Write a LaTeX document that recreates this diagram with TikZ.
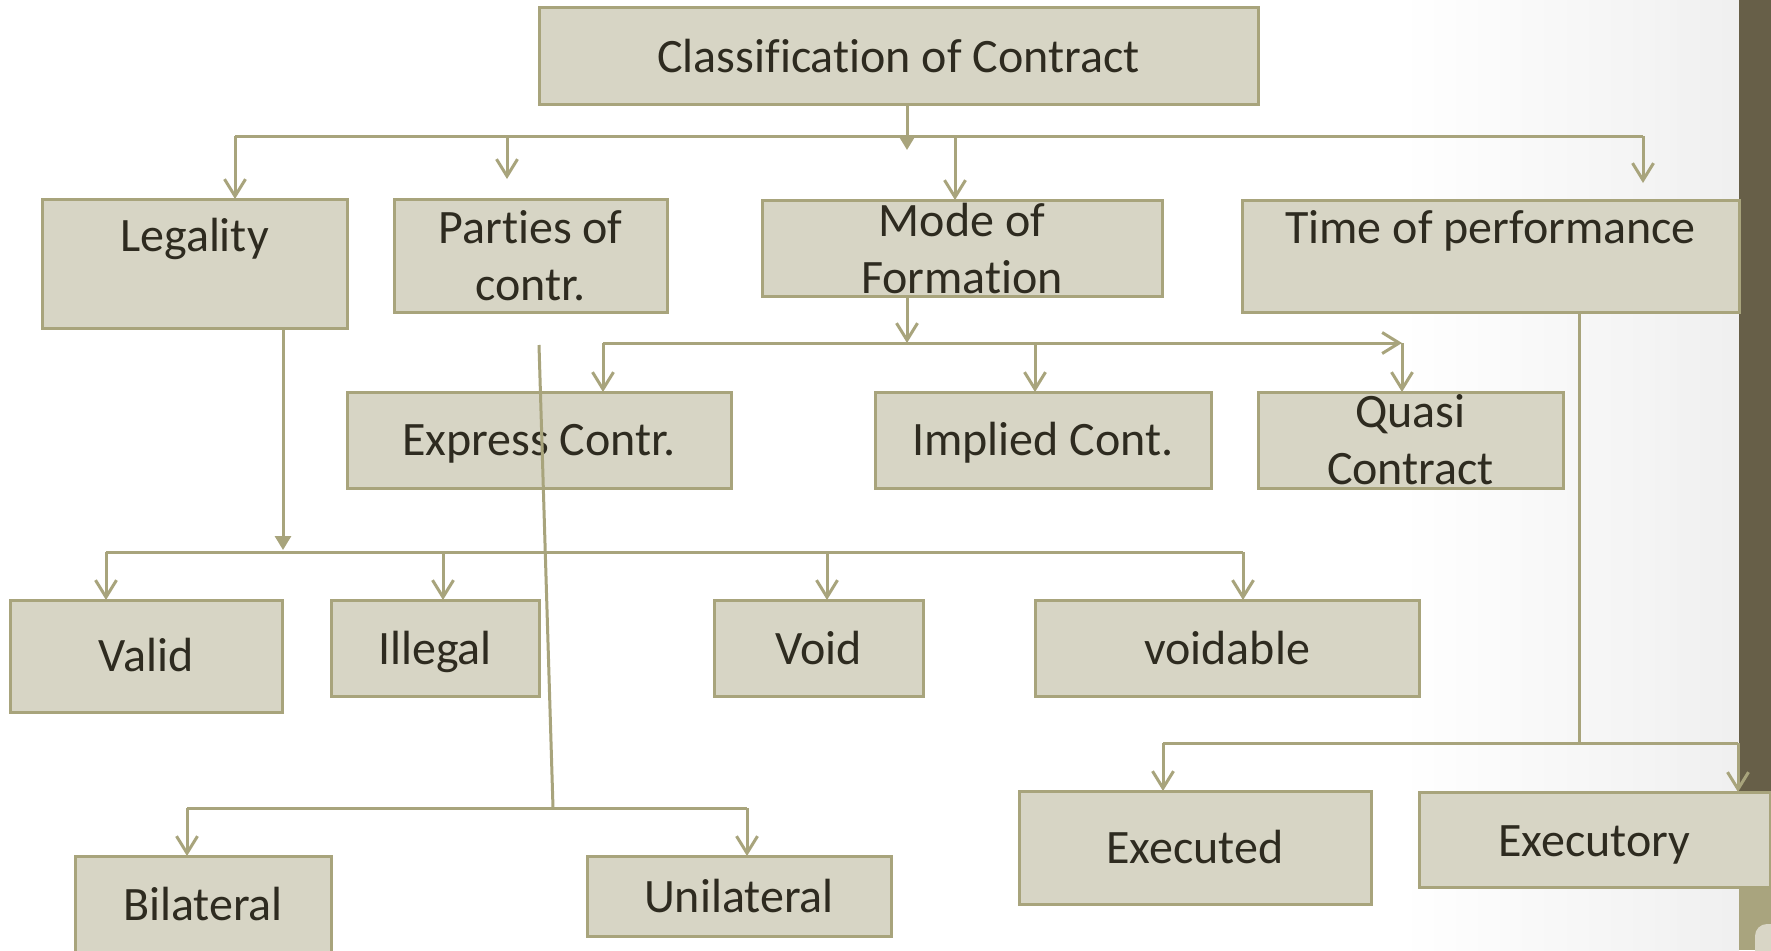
\documentclass[tikz,border=0pt]{standalone}
\usepackage{fontspec}
\setmainfont[Ligatures=NoCommon]{Carlito}
\usetikzlibrary{arrows.meta}
\definecolor{boxfill}{HTML}{D7D5C5}
\definecolor{olive}{HTML}{A8A47C}
\definecolor{txt}{HTML}{2E2B20}
\definecolor{darkbar}{HTML}{675F48}
\definecolor{olivebar}{HTML}{A9A47E}
\definecolor{lightpanel}{HTML}{D9D6C6}
\begin{document}
\begin{tikzpicture}[x=1pt,y=-1pt,
  box/.style={draw=olive, fill=boxfill, line width=3pt, inner sep=0pt, outer sep=0pt},
  lbl/.style={text=txt, font=\fontsize{48}{58}\selectfont, inner sep=0pt, anchor=base},
  conn/.style={draw=olive, line width=3pt},
  barb/.style={conn, -{Straight Barb[length=17pt,width=21pt]}},
  tri/.style={conn, -{Triangle[length=14pt,width=16pt]}}]
\useasboundingbox (0,0) rectangle (1771,950);
% background
\fill[white] (0,0) rectangle (1771,950);
\shade[left color=white, right color=black!6] (1400,0) rectangle (1739,950);
\fill[darkbar] (1739,0) rectangle (1771,840);
\fill[olivebar] (1739,840) rectangle (1771,950);
\fill[lightpanel, rounded corners=12pt] (1755,924) rectangle (1800,980);
% boxes
\node[box, minimum width=719, minimum height=96] (title) at (898.5,56) {};
\node[box, minimum width=305, minimum height=129] (legality) at (194.5,263.5) {};
\node[box, minimum width=273, minimum height=113] (parties) at (530.5,255.5) {};
\node[box, minimum width=400, minimum height=96] (mode) at (962,248) {};
\node[box, minimum width=497, minimum height=112] (time) at (1490.5,256) {};
\node[box, minimum width=384, minimum height=96] (express) at (539,440) {};
\node[box, minimum width=336, minimum height=96] (implied) at (1043,440) {};
\node[box, minimum width=305, minimum height=96] (quasi) at (1410.5,440) {};
\node[box, minimum width=272, minimum height=112] (valid) at (146,656) {};
\node[box, minimum width=208, minimum height=96] (illegal) at (435,648) {};
\node[box, minimum width=209, minimum height=96] (void) at (818.5,648) {};
\node[box, minimum width=384, minimum height=96] (voidable) at (1227,648) {};
\node[box, minimum width=256, minimum height=104] (bilateral) at (203,908) {};
\node[box, minimum width=304, minimum height=80] (unilateral) at (739,896) {};
\node[box, minimum width=352, minimum height=113] (executed) at (1195,847.5) {};
\node[box, minimum width=351, minimum height=95] (executory) at (1594.5,839.5) {};
% texts
\node[lbl] (titleT) at (898.5,72) {Classification of Contract};
\node[lbl] (legalityT) at (194.5,251) {Legality};
\node[lbl] (partiesT1) at (530.5,243) {Parties of};
\node[lbl] (partiesT2) at (530.5,300) {contr.};
\node[lbl] (modeT1) at (962,236) {Mode of};
\node[lbl] (modeT2) at (962,293) {Formation};
\node[lbl] (timeT) at (1490.5,243) {Time of performance};
\node[lbl] (expressT) at (539,455) {Express Contr.};
\node[lbl] (impliedT) at (1043,455) {Implied Cont.};
\node[lbl] (quasiT1) at (1410.5,427) {Quasi};
\node[lbl] (quasiT2) at (1410.5,484) {Contract};
\node[lbl] (validT) at (146,671) {Valid};
\node[lbl] (illegalT) at (435,664) {Illegal};
\node[lbl] (voidT) at (818.5,664) {Void};
\node[lbl] (voidableT) at (1227,664) {voidable};
\node[lbl] (bilateralT) at (203,920) {Bilateral};
\node[lbl] (unilateralT) at (739,912) {Unilateral};
\node[lbl] (executedT) at (1195,863) {Executed};
\node[lbl] (executoryT) at (1594.5,856) {Executory};
% junction coordinates
\coordinate (tT) at (907,150);
\coordinate (b1L) at (235,136);
\coordinate (b1R) at (1643,136);
\coordinate (b1P) at (507,136);
\coordinate (b1M) at (955,136);
\coordinate (pA) at (507,179);
\coordinate (tA) at (1643,183);
\coordinate (lT) at (283,550);
\coordinate (b2L) at (106,552);
\coordinate (b2R) at (1243,552);
\coordinate (b2I) at (443,552);
\coordinate (b2V) at (827,552);
\coordinate (mT) at (907,343);
\coordinate (b3L) at (603,343);
\coordinate (b3R) at (1402,343);
\coordinate (b3I) at (1035,343);
\coordinate (sTop) at (539,345);
\coordinate (sBot) at (553,808);
\coordinate (b4L) at (187,808);
\coordinate (b4R) at (747,808);
\coordinate (tB) at (1579,743);
\coordinate (b5L) at (1163,743);
\coordinate (b5R) at (1738,743);
% level 1
\draw[tri] (title.south -| tT) -- (tT);
\draw[conn] (b1L) -- (b1R);
\draw[barb] (b1L) -- (legality.north -| b1L);
\draw[barb] (b1P) -- (pA);
\draw[barb] (b1M) -- (mode.north -| b1M);
\draw[barb] (b1R) -- (tA);
% legality
\draw[tri] (legality.south -| lT) -- (lT);
\draw[conn] (b2L) -- (b2R);
\draw[barb] (b2L) -- (valid.north -| b2L);
\draw[barb] (b2I) -- (illegal.north -| b2I);
\draw[barb] (b2V) -- (void.north -| b2V);
\draw[barb] (b2R) -- (voidable.north -| b2R);
% mode of formation
\draw[barb] (mode.south -| mT) -- (mT);
\draw[barb] (b3L) -- (b3R);
\draw[barb] (b3L) -- (express.north -| b3L);
\draw[barb] (b3I) -- (implied.north -| b3I);
\draw[barb] (b3R) -- (quasi.north -| b3R);
% parties
\draw[conn] (sTop) -- (sBot);
\draw[conn] (b4L) -- (b4R);
\draw[barb] (b4L) -- (bilateral.north -| b4L);
\draw[barb] (b4R) -- (unilateral.north -| b4R);
% time
\draw[conn] (time.south -| tB) -- (tB);
\draw[conn] (b5L) -- (b5R);
\draw[barb] (b5L) -- (executed.north -| b5L);
\draw[barb] (b5R) -- (executory.north -| b5R);
\end{tikzpicture}
\end{document}
